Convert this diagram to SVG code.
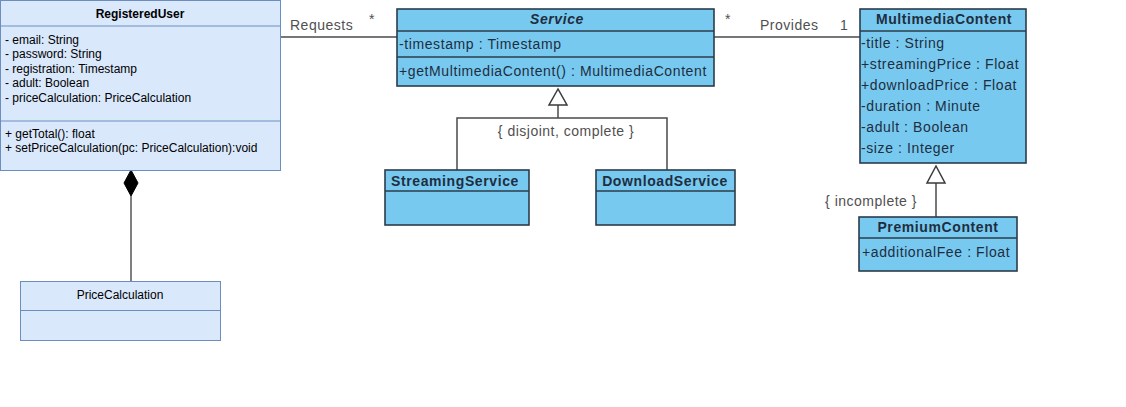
<svg xmlns="http://www.w3.org/2000/svg" width="1126" height="407" viewBox="0 0 1126 407">
<style>
.dio{fill:#dae8fc;stroke:#6c8ebf;stroke-width:1}
.dt{font-family:"Liberation Sans",Arial,sans-serif;font-size:12px;fill:#000}
.vp{fill:#78c9f0;stroke:#2b3c4c;stroke-width:1.6}
.vt{font-family:"Liberation Sans",Arial,sans-serif;font-size:14px;letter-spacing:0.6px;fill:#1e2e40}
.vb{font-family:"Liberation Sans",Arial,sans-serif;font-size:14px;letter-spacing:0.6px;font-weight:bold;fill:#1e2e40}
.ln{fill:none;stroke:#4a4a4a;stroke-width:1.5}
.lbl{font-family:"Liberation Sans",Arial,sans-serif;font-size:14px;letter-spacing:0.5px;fill:#505050}
</style>
<rect width="1126" height="407" fill="#fff"/>
<g id="connectors">
  <line class="ln" x1="280" y1="37" x2="397" y2="37"/>
  <line class="ln" x1="714" y1="37" x2="860" y2="37"/>
  <path class="ln" d="M558 104 V118 M457 170 V118 H667 V170"/>
  <polygon points="558,89 549,105 567,105" fill="#fff" stroke="#3a3a3a" stroke-width="1.5"/>
  <line class="ln" x1="936" y1="183" x2="936" y2="217"/>
  <polygon points="936,166 927,183 945,183" fill="#fff" stroke="#3a3a3a" stroke-width="1.5"/>
  <line x1="131" y1="196" x2="131" y2="281" stroke="#000" stroke-width="1"/>
  <polygon points="131,170 138,183 131,196 124,183" fill="#000" stroke="#000"/>
  <text class="lbl" x="290" y="30">Requests</text>
  <text class="lbl" x="369" y="24">*</text>
  <text class="lbl" x="725" y="24">*</text>
  <text class="lbl" x="760" y="30">Provides</text>
  <text class="lbl" x="840" y="30">1</text>
  <text class="lbl" x="566" y="136" text-anchor="middle">{ disjoint, complete }</text>
  <text class="lbl" x="871" y="206" text-anchor="middle">{ incomplete }</text>
</g>
<g id="RegisteredUser">
  <rect class="dio" x="0.5" y="0.5" width="280" height="170"/>
  <line x1="0.5" y1="26" x2="280.5" y2="26" stroke="#6c8ebf"/>
  <line x1="0.5" y1="121" x2="280.5" y2="121" stroke="#6c8ebf"/>
  <text class="dt" x="140" y="18" text-anchor="middle" font-weight="bold">RegisteredUser</text>
  <text class="dt" x="5" y="44">- email: String</text>
  <text class="dt" x="5" y="58">- password: String</text>
  <text class="dt" x="5" y="73">- registration: Timestamp</text>
  <text class="dt" x="5" y="87">- adult: Boolean</text>
  <text class="dt" x="5" y="102">- priceCalculation: PriceCalculation</text>
  <text class="dt" x="5" y="138">+ getTotal(): float</text>
  <text class="dt" x="5" y="152">+ setPriceCalculation(pc: PriceCalculation):void</text>
</g>
<g id="PriceCalculation">
  <rect class="dio" x="20.5" y="281.5" width="200" height="59"/>
  <line x1="20.5" y1="310.5" x2="220.5" y2="310.5" stroke="#6c8ebf"/>
  <text class="dt" x="120" y="299" text-anchor="middle">PriceCalculation</text>
</g>
<g id="Service">
  <rect class="vp" x="397" y="9" width="317" height="77"/>
  <line x1="397" y1="31" x2="714" y2="31" stroke="#2b3c4c" stroke-width="1.6"/>
  <line x1="397" y1="57" x2="714" y2="57" stroke="#2b3c4c" stroke-width="1.6"/>
  <text class="vb" x="557" y="24" text-anchor="middle" font-style="italic">Service</text>
  <text class="vt" x="399" y="49">-timestamp : Timestamp</text>
  <text class="vt" x="399" y="76">+getMultimediaContent() : MultimediaContent</text>
</g>
<g id="MultimediaContent">
  <rect class="vp" x="860" y="9" width="166" height="154"/>
  <line x1="860" y1="31" x2="1026" y2="31" stroke="#2b3c4c" stroke-width="1.6"/>
  <text class="vb" x="944" y="24" text-anchor="middle">MultimediaContent</text>
  <text class="vt" x="861" y="48">-title : String</text>
  <text class="vt" x="861" y="69">+streamingPrice : Float</text>
  <text class="vt" x="861" y="90">+downloadPrice : Float</text>
  <text class="vt" x="861" y="111">-duration : Minute</text>
  <text class="vt" x="861" y="132">-adult : Boolean</text>
  <text class="vt" x="861" y="153">-size : Integer</text>
</g>
<g id="StreamingService">
  <rect class="vp" x="385" y="170" width="144" height="55"/>
  <line x1="385" y1="191" x2="529" y2="191" stroke="#2b3c4c" stroke-width="1.6"/>
  <text class="vb" x="455" y="186" text-anchor="middle">StreamingService</text>
</g>
<g id="DownloadService">
  <rect class="vp" x="596" y="170" width="139" height="55"/>
  <line x1="596" y1="191" x2="735" y2="191" stroke="#2b3c4c" stroke-width="1.6"/>
  <text class="vb" x="665" y="186" text-anchor="middle">DownloadService</text>
</g>
<g id="PremiumContent">
  <rect class="vp" x="859" y="217" width="158" height="54"/>
  <line x1="859" y1="238" x2="1017" y2="238" stroke="#2b3c4c" stroke-width="1.6"/>
  <text class="vb" x="938" y="232" text-anchor="middle">PremiumContent</text>
  <text class="vt" x="862" y="257">+additionalFee : Float</text>
</g>
</svg>
